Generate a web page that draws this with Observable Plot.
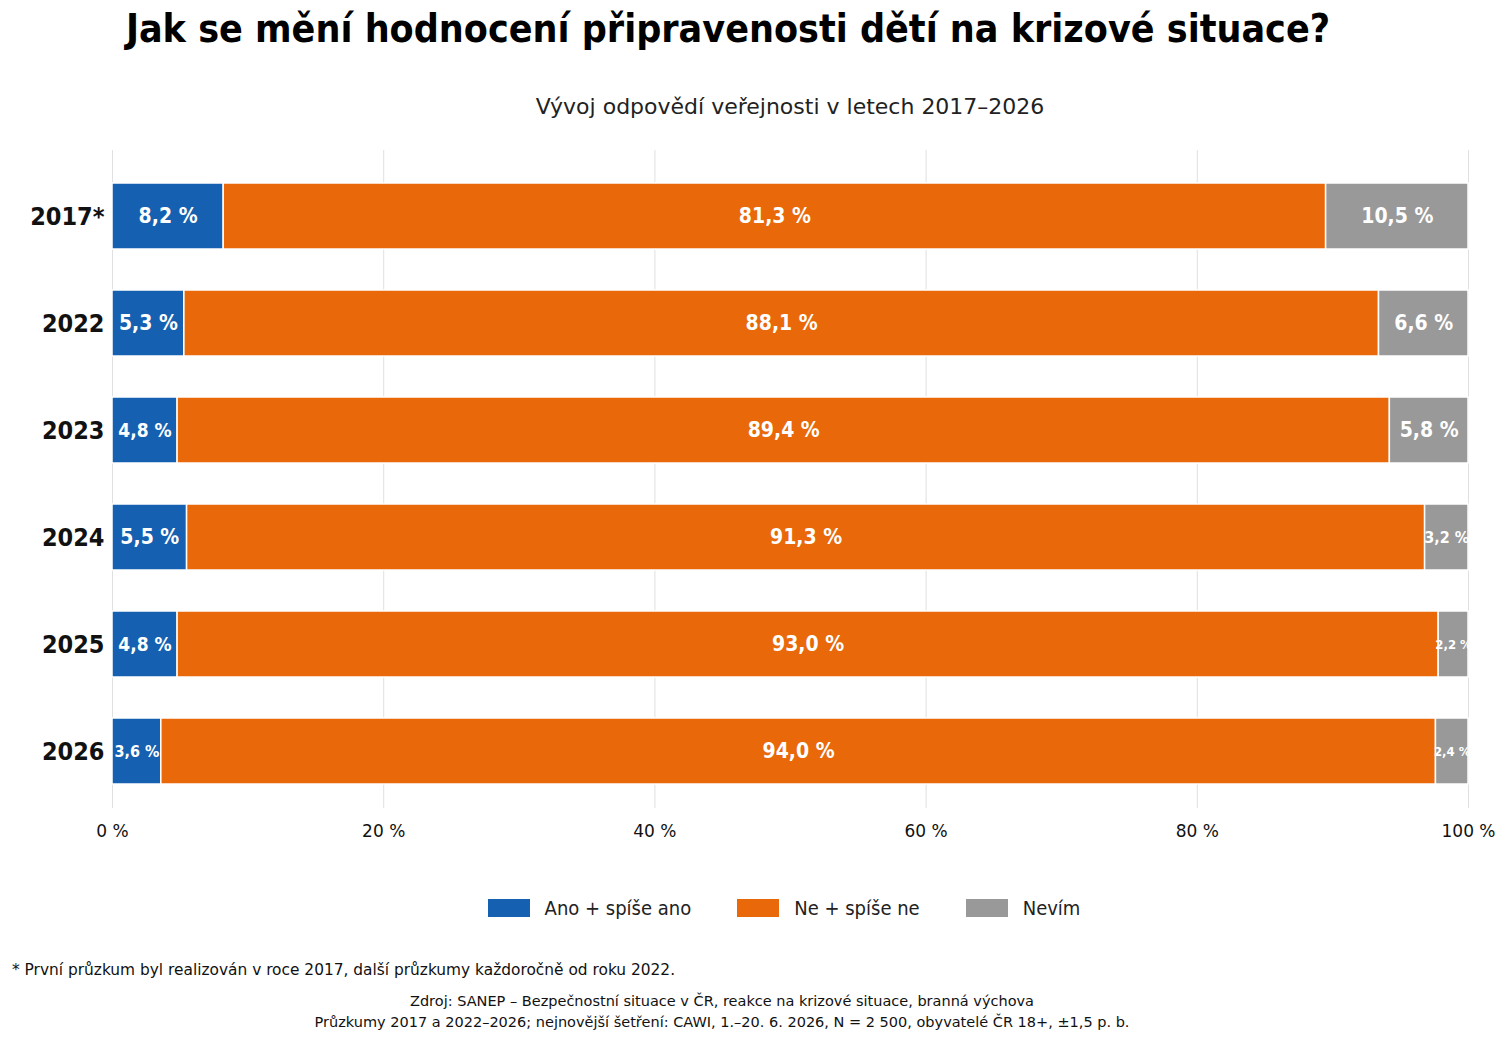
<!DOCTYPE html>
<html><head><meta charset="utf-8">
<script src="https://cdn.jsdelivr.net/npm/d3@7"></script>
<script src="https://cdn.jsdelivr.net/npm/@observablehq/plot@0.6"></script>
<style>
body{margin:0;background:#fff;font-family:"DejaVu Sans",sans-serif;width:1508px;height:1043px;position:relative;overflow:hidden}
.t{position:absolute;left:0;width:1456px;text-align:center;top:6px;font:bold 39px "DejaVu Sans Condensed","DejaVu Sans";}
.s{position:absolute;left:40px;width:1500px;text-align:center;top:94px;font:22px "DejaVu Sans";color:#222}
#chart{position:absolute;left:0;top:140px}
#chart svg text.c{font-family:"DejaVu Sans Condensed","DejaVu Sans";font-stretch:condensed}
.lg{position:absolute;top:896px;left:0;width:1568px;display:flex;justify-content:center;gap:46px;font:20px "DejaVu Sans Condensed","DejaVu Sans";color:#222}
.lg span{display:inline-flex;align-items:center}
.lg i{display:inline-block;width:42px;height:18px;margin-right:15px}
.fn{position:absolute;left:12px;top:961px;font:15.4px "DejaVu Sans";color:#111}
.src{position:absolute;left:0;width:1444px;text-align:center;top:991px;font:14.5px "DejaVu Sans";color:#111;line-height:21px}
</style></head><body>
<div class="t">Jak se mění hodnocení připravenosti dětí na krizové situace?</div>
<div class="s">Vývoj odpovědí veřejnosti v letech 2017–2026</div>
<div id="chart"></div>
<div class="lg"><span><i style="background:#1560b0"></i>Ano + spíše ano</span><span><i style="background:#e8680a"></i>Ne + spíše ne</span><span><i style="background:#999999"></i>Nevím</span></div>
<div class="fn">* První průzkum byl realizován v roce 2017, další průzkumy každoročně od roku 2022.</div>
<div class="src">Zdroj: SANEP – Bezpečnostní situace v ČR, reakce na krizové situace, branná výchova<br>Průzkumy 2017 a 2022–2026; nejnovější šetření: CAWI, 1.–20. 6. 2026, N = 2 500, obyvatelé ČR 18+, ±1,5 p. b.</div>
<script>
const years = ["2017*","2022","2023","2024","2025","2026"];
const ano = [8.2,5.3,4.8,5.5,4.8,3.6];
const ne = [81.3,88.1,89.4,91.3,93.0,94.0];
const nevim = [10.5,6.6,5.8,3.2,2.2,2.4];
const cats = ["Ano + spíše ano","Ne + spíše ne","Nevím"];
const colors = ["#1560b0","#e8680a","#999999"];
const data = [];
years.forEach((y,i)=>{[ano[i],ne[i],nevim[i]].forEach((v,j)=>data.push({year:y,cat:cats[j],value:v}));});
const fmt = v => v.toFixed(1).replace(".",",")+" %";
const chart = Plot.plot({
  width:1508,height:718,marginLeft:112,marginRight:40,marginTop:19,marginBottom:50,
  style:{background:"white"},
  x:{domain:[0,100],ticks:[0,20,40,60,80,100],tickFormat:d=>d+" %",grid:true,label:null,tickSize:0,tickPadding:16},
  y:{domain:years,label:null,paddingInner:0.38,paddingOuter:0.195,tickSize:0,tickPadding:8},
  color:{domain:cats,range:colors},
  marks:[
    Plot.barX(data,Plot.stackX({x:"value",y:"year",fill:"cat",z:"cat",order:cats,stroke:"white",strokeWidth:1.5})),
    Plot.text(data,Plot.stackX({x:"value",y:"year",z:"cat",order:cats,text:d=>fmt(d.value),fill:"white",fontWeight:"bold",
      fontSize:d=>d.value<3?13:d.value<4?16:d.value<5?19:21}))
  ]
});
chart.querySelectorAll("[aria-label='x-grid'] line").forEach(l=>{l.setAttribute("stroke","#ccc");l.setAttribute("stroke-opacity","0.6");l.setAttribute("y1","10");});
chart.querySelectorAll("[aria-label='text'] text").forEach(t=>t.classList.add("c"));
chart.querySelectorAll("[aria-label='y-axis tick label'] text").forEach(t=>{t.classList.add("c");t.style.fontSize="25px";t.style.fontWeight="bold";t.setAttribute("fill","#111");});
chart.querySelectorAll("[aria-label='x-axis tick label'] text").forEach(t=>{t.style.fontSize="17px";t.style.fontFamily="DejaVu Sans";t.setAttribute("fill","#111");});
document.getElementById("chart").appendChild(chart);
</script>
</body></html>
